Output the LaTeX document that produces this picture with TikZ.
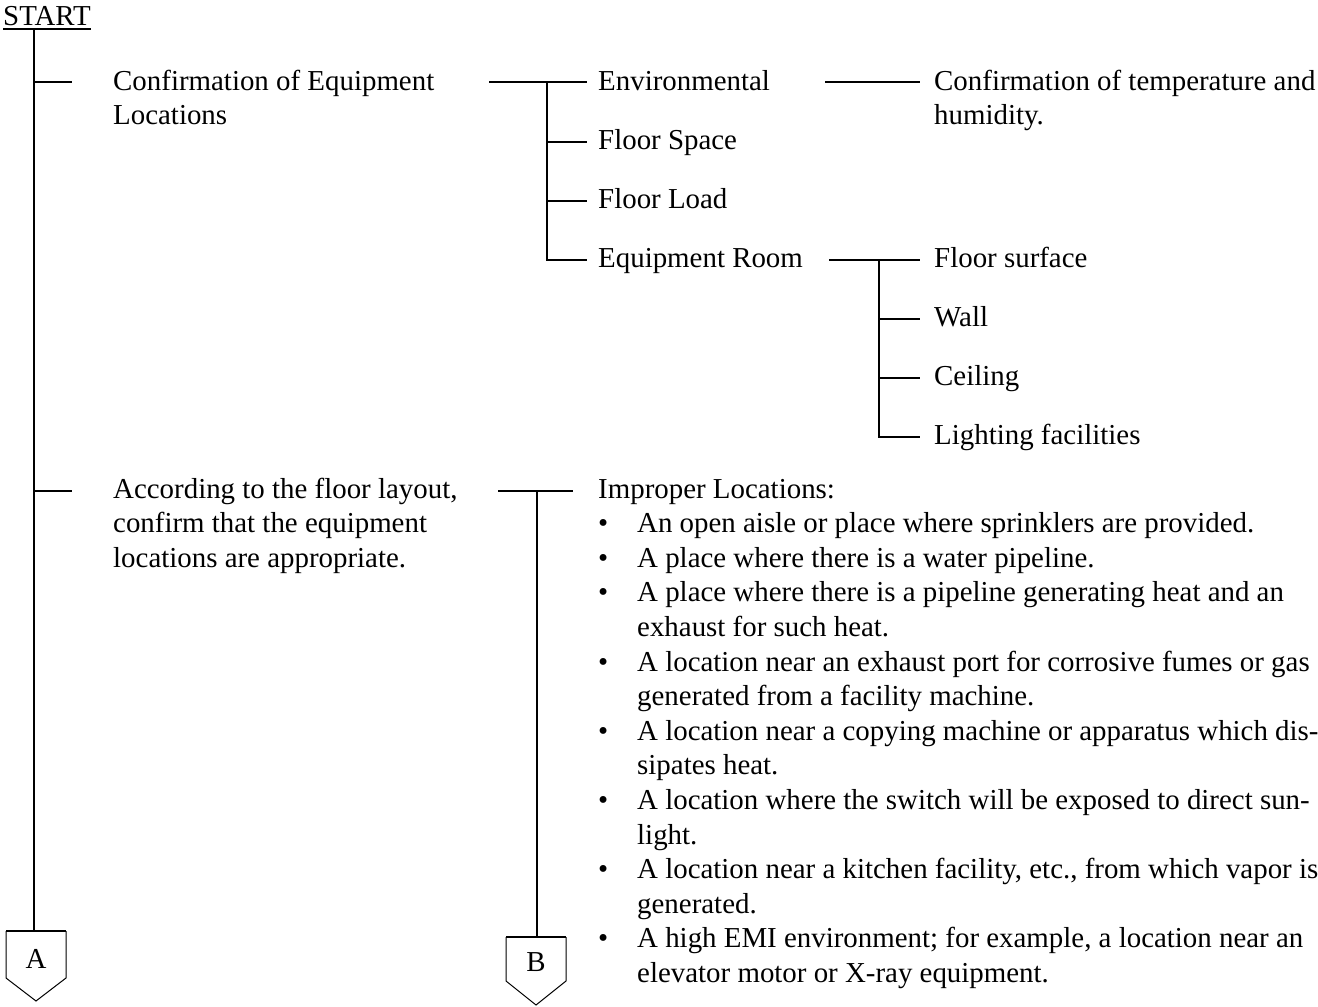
\documentclass[tikz,border=0pt]{standalone}
\usepackage{fontspec}
\setmainfont{Liberation Serif}
% multi-line text whose baseline is the first line's baseline
\newcommand\stackedlines[1]{\begin{tabular}[t]{@{}l@{}}#1\end{tabular}}
\newcommand\bulletmark{\makebox[39pt][l]{•}}
\newcommand\contline{\hspace*{39pt}}
\begin{document}
\begin{tikzpicture}[x=1pt,y=-1pt,
  conn/.style={line width=2pt},
  boxside/.style={line width=1pt, line join=miter},
  txt/.style={anchor=base west, inner sep=0pt, font=\fontsize{28.9pt}{34.6pt}\selectfont},
  lbl/.style={inner sep=0pt, font=\fontsize{28.9pt}{34.6pt}\selectfont}]
\useasboundingbox (0,0) rectangle (1318,1007);

% ---- title ----
\node[txt] (start) at (3,25) {START};
\draw[line width=1.5pt] ([yshift=-4pt]start.base west) -- ([yshift=-4pt]start.base east);

% ---- main spine ----
\coordinate (spTop) at (34,29);
\coordinate (spA) at (34,931);
\draw[conn] (spTop) -- (spA);
\coordinate (k1) at (34,82);  \coordinate (k1e) at (72,82);
\coordinate (k2) at (34,491); \coordinate (k2e) at (72,491);
\draw[conn] (k1) -- (k1e);
\draw[conn] (k2) -- (k2e);

% ---- first-level items ----
\node[txt] (c1) at (113,90) {\stackedlines{Confirmation of Equipment\\Locations}};
\node[txt] (c2) at (113,498) {\stackedlines{According to the floor layout,\\confirm that the equipment\\locations are appropriate.}};

% ---- equipment location checks ----
\node[txt] (env)    at (598,90)  {Environmental};
\node[txt] (fspace) at (598,149) {Floor Space};
\node[txt] (fload)  at (598,208) {Floor Load};
\node[txt] (eroom)  at (598,267) {Equipment Room};

\coordinate (c1r) at (489,82);
\coordinate (b1)  at (547,82);
\coordinate (b1e) at (587,82);
\coordinate (b2)  at (547,142); \coordinate (b2e) at (587,142);
\coordinate (b3)  at (547,201); \coordinate (b3e) at (587,201);
\coordinate (b4)  at (547,260); \coordinate (b4e) at (587,260);
\draw[conn] (c1r) -- (b1e);
\draw[conn] (b1) -- (b4) -- (b4e);
\draw[conn] (b2) -- (b2e);
\draw[conn] (b3) -- (b3e);

% ---- environmental detail ----
\node[txt] (temp) at (934,90) {\stackedlines{Confirmation of temperature and\\humidity.}};
\coordinate (envr) at (825,82); \coordinate (templ) at (920,82);
\draw[conn] (envr) -- (templ);

% ---- equipment room detail ----
\node[txt] (fsurf) at (934,267) {Floor surface};
\node[txt] (wall)  at (934,326) {Wall};
\node[txt] (ceil)  at (934,385) {Ceiling};
\node[txt] (light) at (934,444) {Lighting facilities};

\coordinate (err) at (829,260);
\coordinate (d1) at (879,260); \coordinate (d1e) at (920,260);
\coordinate (d2) at (879,319); \coordinate (d2e) at (920,319);
\coordinate (d3) at (879,378); \coordinate (d3e) at (920,378);
\coordinate (d4) at (879,437); \coordinate (d4e) at (920,437);
\draw[conn] (err) -- (d1e);
\draw[conn] (d1) -- (d4) -- (d4e);
\draw[conn] (d2) -- (d2e);
\draw[conn] (d3) -- (d3e);

% ---- improper locations ----
\node[txt] (imp) at (598,498) {\stackedlines{%
Improper Locations:\\
\bulletmark An open aisle or place where sprinklers are provided.\\
\bulletmark A place where there is a water pipeline.\\
\bulletmark A place where there is a pipeline generating heat and an\\
\contline exhaust for such heat.\\
\bulletmark A location near an exhaust port for corrosive fumes or gas\\
\contline generated from a facility machine.\\
\bulletmark A location near a copying machine or apparatus which dis-\\
\contline sipates heat.\\
\bulletmark A location where the switch will be exposed to direct sun-\\
\contline light.\\
\bulletmark A location near a kitchen facility, etc., from which vapor is\\
\contline generated.\\
\bulletmark A high EMI environment; for example, a location near an\\
\contline elevator motor or X-ray equipment.}};

\coordinate (c2r) at (498,491);
\coordinate (e1)  at (537,491);
\coordinate (e1e) at (573,491);
\coordinate (eB)  at (537,937);
\draw[conn] (c2r) -- (e1e);
\draw[conn] (e1) -- (eB);

% ---- off-page connectors ----
\node[lbl] (A) at (36,959) {A};
\draw[boxside] (6,931) -- (6,978) -- (36,1001) -- (66,978) -- (66,931);
\draw[conn] (6,931) -- (66,931);

\node[lbl] (B) at (536,962) {B};
\draw[boxside] (506,937) -- (506,981) -- (536,1005) -- (566,981) -- (566,937);
\draw[conn] (506,937) -- (566,937);
\end{tikzpicture}
\end{document}
